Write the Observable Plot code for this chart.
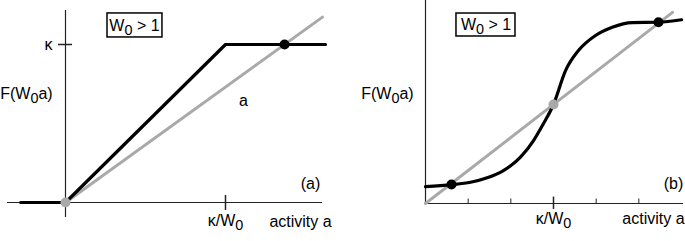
<!DOCTYPE html>
<html>
<head>
<meta charset="utf-8">
<script src="https://cdn.jsdelivr.net/npm/d3@7"></script>
<script src="https://cdn.jsdelivr.net/npm/@observablehq/plot@0.6"></script>
<style>
  html, body { margin: 0; padding: 0; background: white; }
  #wrap { display: flex; width: 685px; height: 241px; }
  svg { display: block; }
</style>
</head>
<body>
<div id="wrap"></div>
<script>
// ---------- Panel (a): piecewise-linear transfer function ----------
const kappa = 1.369;                       // κ expressed in units of activity a (κ/W0 = 1)
const aLineX = [-0.28, 0, 1, 1.625];       // black F(W0 a)
const aLineY = [0, 0, kappa, kappa];
const aIdentX = [0, 1.606];                // gray identity line F = a
const aFixedBlack = [[kappa, kappa]];
const aFixedGray = [[0, 0]];

// ---------- Panel (b): sigmoid transfer function ----------
const bCurveX = [0, 0.203, 0.352, 0.482, 0.609, 0.742, 0.844, 0.922, 1, 1.094, 1.195, 1.328, 1.459, 1.615, 1.82, 2.0];
const bCurveY = [0.17, 0.19, 0.215, 0.26, 0.333, 0.468, 0.636, 0.808, 1, 1.343, 1.545, 1.697, 1.781, 1.828, 1.831, 1.856];
const bIdentX = [0, 1.93];
const bFixedBlack = [[0.203, 0.192], [1.82, 1.83]];
const bFixedGray = [[1, 1]];
const bMinorTicks = [1/3, 2/3, 4/3, 5/3];

// tick labels / annotations
const tickKappa = "κ";
const tickKappaW = "κ/W_0";
const xTitle = "activity a";
const yTitle = "F(W_0a)";
const boxText = "W_0 > 1";

const GRAY = "#a9a9a9";
const AXIS = "#222";
const FONT = "Liberation Sans, Arial, Helvetica, sans-serif";
const FS = 16;

const pts = (xs, ys) => xs.map((x, i) => ({x, y: ys[i]}));

function subscripts(svg) {
  d3.select(svg).selectAll("text").each(function () {
    const t = this.textContent;
    if (!t.includes("_0")) return;
    const [pre, post] = t.split("_0");
    const sel = d3.select(this);
    sel.text(null);
    sel.append("tspan").text(pre);
    sel.append("tspan").attr("dy", "4px").attr("font-size", "90%").text("0");
    if (post) sel.append("tspan").attr("dy", "-4px").text(post);
  });
  return svg;
}

const common = {
  height: 241,
  margin: 0,
  style: {fontFamily: FONT, fontSize: FS + "px", color: "black", background: "white", overflow: "visible"}
};

// ----- Panel (a)
const annA = [
  {x: -0.106, y: kappa, text: tickKappa},
  {x: -0.244, y: 0.945, text: yTitle},
  {x: 1.1125, y: 0.884, text: "a"},
  {x: 1.531, y: 0.165, text: "(a)"},
  {x: 1.0, y: -0.16, text: tickKappaW},
  {x: 1.469, y: -0.165, text: xTitle},
  {x: 0.431, y: 1.534, text: boxText}
];
const plotA = Plot.plot({
  ...common,
  width: 340,
  x: {domain: [0, 1], range: [65, 225], axis: null},
  y: {domain: [0, kappa], range: [202, 44], axis: null},
  marks: [
    Plot.ruleX([0], {y1: -0.13, y2: 1.664, stroke: AXIS, strokeWidth: 1.2}),
    Plot.ruleY([0], {x1: -0.3625, x2: 1.606, stroke: AXIS, strokeWidth: 1.2}),
    Plot.ruleY([kappa], {x1: -0.044, x2: 0.044, stroke: AXIS, strokeWidth: 1.5}),
    Plot.ruleX([1], {y1: -0.069, y2: 0.061, stroke: AXIS, strokeWidth: 1.5}),
    Plot.line(pts(aIdentX, aIdentX), {x: "x", y: "y", stroke: GRAY, strokeWidth: 3}),
    Plot.line(pts(aLineX, aLineY), {x: "x", y: "y", stroke: "black", strokeWidth: 3.2, strokeLinejoin: "miter"}),
    Plot.dot(aFixedBlack, {x: d => d[0], y: d => d[1], r: 5, fill: "black"}),
    Plot.dot(aFixedGray, {x: d => d[0], y: d => d[1], r: 5, fill: GRAY}),
    Plot.rect([{x1: 0.2625, x2: 0.606, y1: 1.43, y2: 1.638}], {x1: "x1", x2: "x2", y1: "y1", y2: "y2", fill: "white", stroke: "black", strokeWidth: 1.5}),
    Plot.text(annA, {x: "x", y: "y", text: "text", fontSize: FS, fill: "black"})
  ]
});

// ----- Panel (b)
const annB = [
  {x: -0.297, y: 1.111, text: yTitle},
  {x: 1.9375, y: 0.202, text: "(b)"},
  {x: 1.0, y: -0.155, text: tickKappaW},
  {x: 1.781, y: -0.155, text: xTitle},
  {x: 0.473, y: 1.803, text: boxText}
];
const plotB = Plot.plot({
  ...common,
  width: 345,
  x: {domain: [0, 1], range: [85, 213], axis: null},
  y: {domain: [0, 1], range: [203, 104], axis: null},
  marks: [
    Plot.ruleX([0], {y1: 0, y2: 2.06, stroke: AXIS, strokeWidth: 1.2}),
    Plot.ruleY([0], {x1: 0, x2: 2.016, stroke: AXIS, strokeWidth: 1.2}),
    Plot.ruleX(bMinorTicks, {y1: 0, y2: 0.045, stroke: AXIS, strokeWidth: 1}),
    Plot.ruleX([1], {y1: -0.06, y2: 0.065, stroke: AXIS, strokeWidth: 1.5}),
    Plot.line(pts(bIdentX, bIdentX), {x: "x", y: "y", stroke: GRAY, strokeWidth: 3}),
    Plot.line(pts(bCurveX, bCurveY), {x: "x", y: "y", stroke: "black", strokeWidth: 3.2, curve: "monotone-x"}),
    Plot.dot(bFixedBlack, {x: d => d[0], y: d => d[1], r: 5, fill: "black"}),
    Plot.dot(bFixedGray, {x: d => d[0], y: d => d[1], r: 5, fill: GRAY}),
    Plot.rect([{x1: 0.242, x2: 0.703, y1: 1.687, y2: 1.919}], {x1: "x1", x2: "x2", y1: "y1", y2: "y2", fill: "white", stroke: "black", strokeWidth: 1.5}),
    Plot.text(annB, {x: "x", y: "y", text: "text", fontSize: FS, fill: "black"})
  ]
});

const wrap = document.getElementById("wrap");
wrap.appendChild(subscripts(plotA));
wrap.appendChild(subscripts(plotB));
</script>
</body>
</html>
